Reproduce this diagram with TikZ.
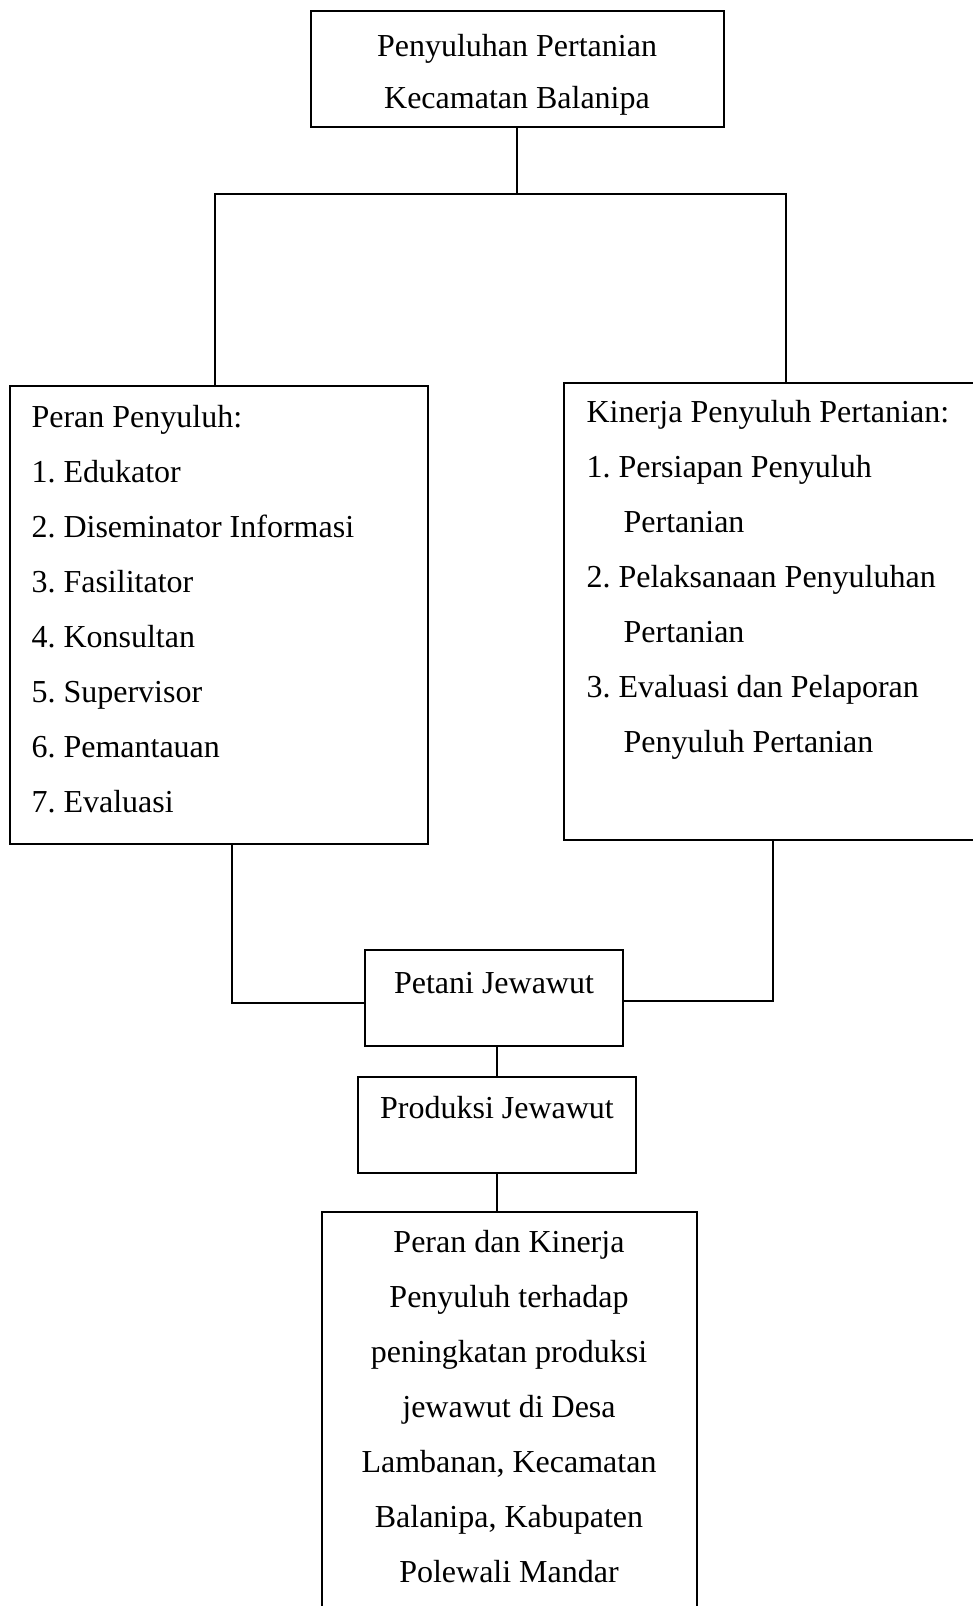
\documentclass[tikz,border=0pt]{standalone}
\usepackage{fontspec}
\setmainfont{Liberation Serif}
\usetikzlibrary{fit}
\frenchspacing
\tikzset{
  box/.style={draw=black, line width=0.9pt, inner sep=0pt, rectangle},
  conn/.style={draw=black, line width=0.5pt},
  txt/.style={inner sep=0pt, font=\fontsize{12}{20.625}\selectfont},
}
\begin{document}
\begin{tikzpicture}[x=0.375pt,y=-0.375pt]
\useasboundingbox (0,0) rectangle (973,1606);
\clip (0,0) rectangle (973,1606);
% boxes
\node[box, fit={(311,11) (724,127)}] (top) {};
\node[box, fit={(10,386) (428,844)}] (left) {};
\node[box, fit={(564,383) (985,840)}] (right) {};
\node[box, fit={(365,950) (623,1046)}] (petani) {};
\node[box, fit={(358,1077) (636,1173)}] (produksi) {};
\node[box, fit={(322,1212) (697,1620)}] (final) {};
% texts
\node[txt, anchor=base] at (517,56) {\fontsize{12}{19.5}\selectfont\begin{tabular}[t]{@{}c@{}}Penyuluhan Pertanian\\Kecamatan Balanipa\end{tabular}};
\node[txt, anchor=base west] at (31,427) {\begin{tabular}[t]{@{}l@{}}Peran Penyuluh:\\1. Edukator\\2. Diseminator Informasi\\3. Fasilitator\\4. Konsultan\\5. Supervisor\\6. Pemantauan\\7. Evaluasi\end{tabular}};
\node[txt, anchor=base west] at (586,422) {\begin{tabular}[t]{@{}l@{}}Kinerja Penyuluh Pertanian:\\1. Persiapan Penyuluh\\\hspace*{13.9pt}Pertanian\\2. Pelaksanaan Penyuluhan\\\hspace*{13.9pt}Pertanian\\3. Evaluasi dan Pelaporan\\\hspace*{13.9pt}Penyuluh Pertanian\end{tabular}};
\node[txt, anchor=base] at (494,993) {Petani Jewawut};
\node[txt, anchor=base] at (497,1118) {Produksi Jewawut};
\node[txt, anchor=base] at (509,1252) {\begin{tabular}[t]{@{}c@{}}Peran dan Kinerja\\Penyuluh terhadap\\peningkatan produksi\\jewawut di Desa\\Lambanan, Kecamatan\\Balanipa, Kabupaten\\Polewali Mandar\end{tabular}};
% connectors
\coordinate (jt) at (517,194);
\coordinate (jl) at (215,194);
\coordinate (jr) at (786,194);
\draw[conn] (top.south -| jt) -- (jt);
\draw[conn] (jl |- left.north) -- (jl) -- (jr) -- (jr |- right.north);
\coordinate (lb) at (232,1003);
\coordinate (rb) at (773,1001);
\draw[conn] (lb |- left.south) -- (lb) -- (lb -| petani.west);
\draw[conn] (rb |- right.south) -- (rb) -- (rb -| petani.east);
\draw[conn] (petani.south -| produksi.north) -- (produksi.north);
\draw[conn] (produksi.south) -- (produksi.south |- final.north);
\end{tikzpicture}
\end{document}
